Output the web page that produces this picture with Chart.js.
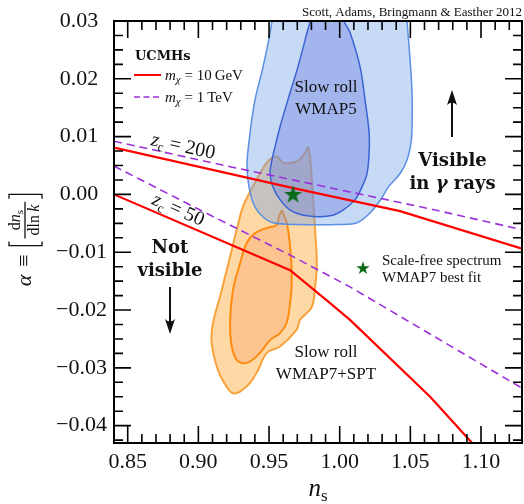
<!DOCTYPE html>
<html>
<head>
<meta charset="utf-8">
<script src="https://cdn.jsdelivr.net/npm/chart.js@4.4.0/dist/chart.umd.min.js"></script>
<style>
  html, body { margin: 0; padding: 0; background: #fff; }
</style>
</head>
<body>
<canvas id="chart" width="524" height="504"></canvas>
<script>
// axis extents and labelled ticks
const X_RANGE = [0.8403, 1.129];
const Y_RANGE = [-0.043, 0.030];
const X_TICKS = [0.85, 0.90, 0.95, 1.00, 1.05, 1.10];
const Y_TICKS = [0.03, 0.02, 0.01, 0.00, -0.01, -0.02, -0.03, -0.04];

// UCMH limits, m_chi = 10 GeV (solid) and 1 TeV (dashed)
const RED_200_NS = [0.8403, 0.9672, 1.0427, 1.129];
const RED_200_ALPHA = [0.0081, 0.0011, -0.0029, -0.0094];
const RED_50_NS = [0.8403, 0.9649, 0.9932, 1.0073, 1.0640, 1.0937, 1.10];
const RED_50_ALPHA = [0.0000, -0.0131, -0.0188, -0.0217, -0.0350, -0.0430, -0.0447];
const PURPLE_200_NS = [0.8403, 0.9224, 1.0640, 1.129];
const PURPLE_200_ALPHA = [0.0092, 0.0048, -0.0025, -0.0061];
const PURPLE_50_NS = [0.8403, 0.9012, 0.9649, 1.0073, 1.129];
const PURPLE_50_ALPHA = [0.0049, -0.0027, -0.0105, -0.0160, -0.0335];

// slow-roll contours, WMAP5 (68% / 95%)
const WMAP5_95_NS = [0.9525, 0.9521, 0.9458, 0.9401, 0.9366, 0.9344, 0.9366, 0.9401, 0.9458, 0.9528,
  0.9700, 1.0000, 1.0123, 1.0215, 1.0290, 1.0345, 1.0430, 1.0477, 1.0505, 1.0512, 1.0512, 1.0498,
  1.0477, 1.0470, 0.9525];
const WMAP5_95_ALPHA = [0.0340, 0.0300, 0.0221, 0.0164, 0.0107, 0.0048, 0.0003, -0.0022, -0.0039, -0.0049,
  -0.0052, -0.0052, -0.0049, -0.0032, -0.0009, 0.0013, 0.0037, 0.0060, 0.0090, 0.0117, 0.0176, 0.0233,
  0.0300, 0.0340, 0.0340];
const WMAP5_68_NS = [0.9800, 0.9790, 0.9769, 0.9705, 0.9634, 0.9578, 0.9542, 0.9521, 0.9507, 0.9528,
  0.9578, 0.9649, 0.9769, 0.9932, 1.0024, 1.0109, 1.0158, 1.0194, 1.0208, 1.0208, 1.0179, 1.0144,
  1.0073, 1.0031, 1.0010, 0.9800];
const WMAP5_68_ALPHA = [0.0340, 0.0300, 0.0280, 0.0221, 0.0164, 0.0117, 0.0082, 0.0060, 0.0037, 0.0013,
  -0.0009, -0.0027, -0.0037, -0.0037, -0.0027, -0.0009, 0.0013, 0.0037, 0.0072, 0.0107, 0.0164, 0.0221,
  0.0280, 0.0300, 0.0340, 0.0340];

// slow-roll contours, WMAP7+SPT (68% / 95%)
const SPT_95_NS = [0.9776, 0.9790, 0.9811, 0.9826, 0.9838, 0.9826, 0.9802, 0.9719, 0.9696, 0.9578,
  0.9484, 0.9422, 0.9366, 0.9295, 0.9245, 0.9201, 0.9139, 0.9094, 0.9104, 0.9153, 0.9189, 0.9224,
  0.9271, 0.9316, 0.9387, 0.9484, 0.9554, 0.9599, 0.9696, 0.9755, 0.9776];
const SPT_95_ALPHA = [0.0083, 0.0066, -0.0004, -0.0061, -0.0119, -0.0160, -0.0195, -0.0217, -0.0234, -0.0263,
  -0.0274, -0.0304, -0.0326, -0.0341, -0.0344, -0.0333, -0.0304, -0.0257, -0.0222, -0.0177, -0.0142, -0.0108,
  -0.0061, -0.0021, 0.0014, 0.0055, 0.0066, 0.0055, 0.0057, 0.0072, 0.0083];
const SPT_68_NS = [0.9590, 0.9625, 0.9649, 0.9661, 0.9649, 0.9625, 0.9578, 0.9507, 0.9436, 0.9366,
  0.9316, 0.9271, 0.9236, 0.9224, 0.9245, 0.9295, 0.9342, 0.9401, 0.9484, 0.9554, 0.9571, 0.9590];
const SPT_68_ALPHA = [-0.0027, -0.0049, -0.0090, -0.0148, -0.0188, -0.0222, -0.0240, -0.0252, -0.0274, -0.0289,
  -0.0292, -0.0286, -0.0263, -0.0222, -0.0165, -0.0119, -0.0084, -0.0067, -0.0058, -0.0053, -0.0038, -0.0027];

// WMAP7 best fit for a scale-free spectrum
const BEST_FIT = {ns: 0.967, alpha: 0.0};

const SERIF = '"Liberation Serif", "DejaVu Serif", serif';
const BOLD = '"DejaVu Serif", serif';
const INK = "#111";

const toPoints = (xs, ys) => xs.map((x, i) => ({x, y: ys[i]}));

function makeStar(r, color) {
    const size = Math.ceil(2 * r + 2);
    const c = document.createElement("canvas");
    c.width = size;
    c.height = size;
    const g = c.getContext("2d");
    g.translate(size / 2, size / 2 + r * 0.05);
    g.beginPath();
    for (let i = 0; i < 10; i++) {
        const rad = i % 2 === 0 ? r : r * 0.39;
        const a = -Math.PI / 2 + i * Math.PI / 5;
        g.lineTo(rad * Math.cos(a), rad * Math.sin(a));
    }
    g.closePath();
    g.fillStyle = color;
    g.fill();
    return c;
}

const STAR_GREEN = "#0a6a16";
const bigStar = makeStar(9.5, STAR_GREEN);
const smallStar = makeStar(7, STAR_GREEN);

// text made of runs: [text, font, baseline shift]
function runsWidth(ctx, runs) {
    let w = 0;
    for (const [t, f] of runs) {
        ctx.font = f;
        w += ctx.measureText(t).width;
    }
    return w;
}

function drawRuns(ctx, runs, x, y, align) {
    const w = runsWidth(ctx, runs);
    let cx = align === "center" ? x - w / 2 : align === "right" ? x - w : x;
    ctx.textAlign = "left";
    ctx.textBaseline = "alphabetic";
    for (const [t, f, dy = 0] of runs) {
        ctx.font = f;
        ctx.fillText(t, cx, y + dy);
        cx += ctx.measureText(t).width;
    }
    return w;
}

function drawRotated(ctx, runs, x, y, deg) {
    ctx.save();
    ctx.translate(x, y);
    ctx.rotate(deg * Math.PI / 180);
    drawRuns(ctx, runs, 0, 0, "center");
    ctx.restore();
}

function drawArrow(ctx, x, tail, tip) {
    const dir = Math.sign(tip - tail);
    ctx.lineWidth = 2;
    ctx.beginPath();
    ctx.moveTo(x, tail);
    ctx.lineTo(x, tip - dir * 8);
    ctx.stroke();
    ctx.beginPath();
    ctx.moveTo(x, tip);
    ctx.lineTo(x - 5, tip - dir * 15);
    ctx.quadraticCurveTo(x, tip - dir * 10, x + 5, tip - dir * 15);
    ctx.closePath();
    ctx.fill();
}

// alpha = [dn_s / dln k], set sideways along the y axis
function drawAlphaTitle(ctx, cx, cy) {
    ctx.save();
    ctx.translate(cx, cy);
    ctx.rotate(-Math.PI / 2);
    ctx.fillStyle = INK;
    ctx.strokeStyle = INK;
    const italic = `italic 22px ${SERIF}`;
    const upright = `22px ${SERIF}`;
    const num = [["d", `16px ${SERIF}`], ["n", `italic 16px ${SERIF}`], ["s", `11px ${SERIF}`, 3]];
    const den = [["dln", `16px ${SERIF}`], ["\u2009k", `italic 16px ${SERIF}`]];
    ctx.font = italic;
    const wA = ctx.measureText("\u03b1").width;
    ctx.font = upright;
    const wEq = ctx.measureText("\u2261").width;
    const wFrac = Math.max(runsWidth(ctx, num), runsWidth(ctx, den)) + 6;
    const gap = 8, brW = 5;
    const total = wA + gap + wEq + gap + brW + 3 + wFrac + 3 + brW;
    let u = -total / 2;
    drawRuns(ctx, [["\u03b1", italic]], u, 0, "left");
    u += wA + gap;
    drawRuns(ctx, [["\u2261", upright]], u, 0, "left");
    u += wEq + gap;
    const axis = -6, top = -22, bottom = 11;
    ctx.lineWidth = 1.3;
    ctx.beginPath();
    ctx.moveTo(u + brW, top);
    ctx.lineTo(u + 0.7, top);
    ctx.lineTo(u + 0.7, bottom);
    ctx.lineTo(u + brW, bottom);
    u += brW + 3;
    ctx.moveTo(u, axis);
    ctx.lineTo(u + wFrac, axis);
    const uEnd = u + wFrac + 3;
    ctx.moveTo(uEnd, top);
    ctx.lineTo(uEnd + brW - 0.7, top);
    ctx.lineTo(uEnd + brW - 0.7, bottom);
    ctx.lineTo(uEnd, bottom);
    ctx.stroke();
    drawRuns(ctx, num, u + wFrac / 2, axis - 5, "center");
    drawRuns(ctx, den, u + wFrac / 2, axis + 14, "center");
    ctx.restore();
}

// inward major/minor ticks on all four sides, plus the box
const frameTicks = {
    id: "frameTicks",
    afterDatasetsDraw(chart) {
        const {ctx, chartArea: {left, right, top, bottom}, scales: {x, y}} = chart;
        ctx.save();
        ctx.strokeStyle = "#000";
        ctx.lineWidth = 1.6;
        ctx.beginPath();
        for (let i = 84; i <= 113; i++) {
            const px = x.getPixelForValue(i / 100);
            if (px < left + 1 || px > right - 1) continue;
            const len = i % 5 === 0 ? 17 : 9;
            ctx.moveTo(px, bottom);
            ctx.lineTo(px, bottom - len);
            ctx.moveTo(px, top);
            ctx.lineTo(px, top + len);
        }
        for (let i = -17; i <= 12; i++) {
            const py = y.getPixelForValue(i * 0.0025);
            if (py < top + 1 || py > bottom - 1) continue;
            const len = i % 4 === 0 ? 17 : 9;
            ctx.moveTo(left, py);
            ctx.lineTo(left + len, py);
            ctx.moveTo(right, py);
            ctx.lineTo(right - len, py);
        }
        ctx.stroke();
        ctx.lineWidth = 2;
        ctx.strokeRect(left, top, right - left, bottom - top);
        ctx.restore();
    },
};

// labels, arrows, legend and axis titles
const annotations = {
    id: "annotations",
    afterDraw(chart) {
        const {ctx} = chart;
        ctx.save();
        ctx.fillStyle = INK;
        ctx.strokeStyle = INK;

        drawRuns(ctx, [["Scott, Adams, Bringmann & Easther 2012", `13px ${SERIF}`]], 522, 16, "right");

        // legend
        drawRuns(ctx, [["UCMHs", `bold 13px ${BOLD}`]], 135, 60, "left");
        ctx.lineWidth = 2;
        ctx.strokeStyle = "#ff0000";
        ctx.beginPath();
        ctx.moveTo(134, 75);
        ctx.lineTo(161, 75);
        ctx.stroke();
        ctx.strokeStyle = "#9b30d9";
        ctx.lineWidth = 1.6;
        ctx.setLineDash([6, 3.5]);
        ctx.beginPath();
        ctx.moveTo(134, 97);
        ctx.lineTo(161, 97);
        ctx.stroke();
        ctx.setLineDash([]);
        ctx.strokeStyle = INK;
        const mI = `italic 15px ${SERIF}`, up15 = `15px ${SERIF}`, chi = `italic 11px ${SERIF}`;
        drawRuns(ctx, [["m", mI], ["\u03c7", chi, 3], [" = 10\u2009GeV", up15]], 165, 80, "left");
        drawRuns(ctx, [["m", mI], ["\u03c7", chi, 3], [" = 1\u2009TeV", up15]], 165, 102, "left");

        // contour labels
        const f17 = `17px ${SERIF}`;
        drawRuns(ctx, [["Slow roll", f17]], 326, 92, "center");
        drawRuns(ctx, [["WMAP5", f17]], 326, 114, "center");
        drawRuns(ctx, [["Slow roll", f17]], 326, 357, "center");
        drawRuns(ctx, [["WMAP7+SPT", f17]], 326, 379, "center");

        // best-fit key
        ctx.drawImage(smallStar, 363 - smallStar.width / 2, 268 - smallStar.height / 2);
        const f15 = `15px ${SERIF}`;
        drawRuns(ctx, [["Scale-free spectrum", f15]], 382, 265, "left");
        drawRuns(ctx, [["WMAP7 best fit", f15]], 382, 282, "left");

        // z_c labels along the curves
        const zI = `italic 20px ${SERIF}`, zSub = `13px ${SERIF}`, z20 = `20px ${SERIF}`;
        drawRotated(ctx, [["z", zI], ["c", zSub, 4], [" = 200", z20]], 182, 152, 12.5);
        drawRotated(ctx, [["z", zI], ["c", zSub, 4], [" = 50", z20]], 176, 215, 24);

        // visibility regions
        const b18 = `bold 18px ${BOLD}`, bi18 = `bold italic 18px ${BOLD}`;
        drawRuns(ctx, [["Visible", b18]], 452.5, 166, "center");
        drawRuns(ctx, [["in ", b18], ["\u03b3", bi18], [" rays", b18]], 452.5, 189, "center");
        drawRuns(ctx, [["Not", b18]], 170, 253, "center");
        drawRuns(ctx, [["visible", b18]], 170, 276, "center");
        drawArrow(ctx, 452, 137, 90);
        drawArrow(ctx, 170, 287, 334);

        // axis titles
        drawRuns(ctx, [["n", `italic 25px ${SERIF}`], ["s", `17px ${SERIF}`, 5]], 318, 496, "center");
        drawAlphaTitle(ctx, 31, 240);
        ctx.restore();
    },
};

const outline = {showLine: true, pointRadius: 0, pointHoverRadius: 0, tension: 0.35, fill: "shape"};
const curve = {showLine: true, pointRadius: 0, pointHoverRadius: 0, tension: 0, fill: false, order: 1};

const fmtAlpha = (v) => {
    const s = Math.abs(v).toFixed(2);
    return v < -1e-9 ? "\u2212" + s : s + "\u2009\u2009";
};

// keep the plot box fixed: no label overhang padding
const noOverhang = (s) => {
    s.paddingLeft = 0;
    s.paddingRight = 0;
    s.paddingTop = 0;
    s.paddingBottom = 0;
};

new Chart(document.getElementById("chart"), {
    type: "scatter",
    data: {
        datasets: [
            {
                data: [{x: BEST_FIT.ns, y: BEST_FIT.alpha}],
                pointStyle: bigStar,
                pointRadius: 10,
                order: 0,
            },
            {...curve, data: toPoints(RED_200_NS, RED_200_ALPHA), borderColor: "#ff0000", borderWidth: 2.2},
            {...curve, data: toPoints(RED_50_NS, RED_50_ALPHA), borderColor: "#ff0000", borderWidth: 2.2},
            {...curve, data: toPoints(PURPLE_200_NS, PURPLE_200_ALPHA), borderColor: "#9b30d9",
                borderWidth: 1.6, borderDash: [8, 5]},
            {...curve, data: toPoints(PURPLE_50_NS, PURPLE_50_ALPHA), borderColor: "#9b30d9",
                borderWidth: 1.6, borderDash: [8, 5]},
            {...outline, data: toPoints(WMAP5_68_NS, WMAP5_68_ALPHA), order: 2,
                backgroundColor: "rgba(107,127,222,0.4)", borderColor: "#3a63d4", borderWidth: 1.5},
            {...outline, data: toPoints(WMAP5_95_NS, WMAP5_95_ALPHA), order: 3,
                backgroundColor: "rgba(112,160,230,0.4)", borderColor: "#5b8fe3", borderWidth: 1.5},
            {...outline, data: toPoints(SPT_68_NS, SPT_68_ALPHA), order: 4,
                backgroundColor: "#fcc48f", borderColor: "#ff8c10", borderWidth: 2},
            {...outline, data: toPoints(SPT_95_NS, SPT_95_ALPHA), order: 5,
                backgroundColor: "#fed9a6", borderColor: "#f9a23c", borderWidth: 2},
        ],
    },
    options: {
        responsive: false,
        devicePixelRatio: 1,
        animation: false,
        events: [],
        layout: {autoPadding: false, padding: {top: 21, right: 2, left: 0, bottom: 0}},
        elements: {line: {capBezierPoints: false}},
        plugins: {legend: {display: false}, tooltip: {enabled: false}},
        scales: {
            x: {
                type: "linear",
                min: X_RANGE[0],
                max: X_RANGE[1],
                grid: {display: false, drawTicks: false},
                border: {display: false},
                afterBuildTicks: (s) => { s.ticks = X_TICKS.map((v) => ({value: v})); },
                afterFit: (s) => { s.height = 61; noOverhang(s); },
                ticks: {
                    font: {family: SERIF, size: 22},
                    color: INK,
                    padding: 6,
                    maxRotation: 0,
                    autoSkip: false,
                    callback: (v) => v.toFixed(2),
                },
            },
            y: {
                type: "linear",
                min: Y_RANGE[0],
                max: Y_RANGE[1],
                grid: {display: false, drawTicks: false},
                border: {display: false},
                afterBuildTicks: (s) => { s.ticks = Y_TICKS.map((v) => ({value: v})); },
                afterFit: (s) => { s.width = 114; noOverhang(s); },
                ticks: {
                    font: {family: SERIF, size: 22},
                    color: INK,
                    padding: 7,
                    autoSkip: false,
                    callback: fmtAlpha,
                },
            },
        },
    },
    plugins: [frameTicks, annotations],
});
</script>
</body>
</html>
